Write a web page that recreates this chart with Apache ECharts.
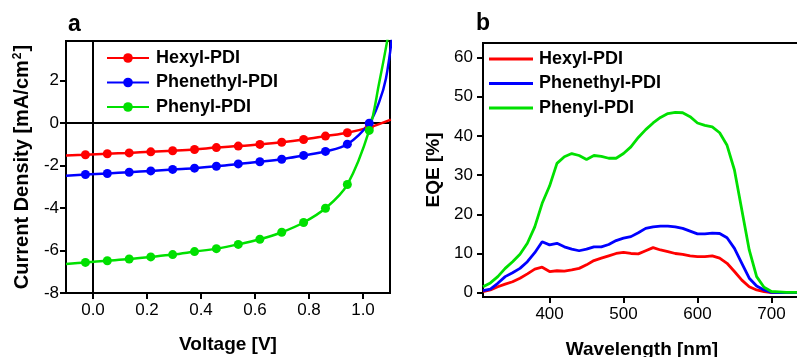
<!DOCTYPE html>
<html>
<head>
<meta charset="utf-8">
<script src="https://cdn.jsdelivr.net/npm/echarts@6/dist/echarts.min.js"></script>
<style>
html,body{margin:0;padding:0;background:#fff;}
#chart{width:797px;height:357px;}
</style>
</head>
<body>
<div id="chart"></div>
<script>
// ---- Panel a: J-V curves ----
const markerV = [-0.028, 0.053, 0.134, 0.214, 0.295, 0.376, 0.457, 0.538, 0.618, 0.699, 0.78, 0.861, 0.942, 1.023, 1.103];
const hexylV = [-0.1, -0.028, 0.053, 0.134, 0.214, 0.295, 0.376, 0.457, 0.538, 0.618, 0.699, 0.78, 0.861, 0.942, 1.023, 1.103];
const hexylJ = [-1.52, -1.49, -1.44, -1.40, -1.35, -1.30, -1.24, -1.15, -1.08, -1.00, -0.90, -0.77, -0.61, -0.45, -0.2, 0.17];
const phenethylV = [-0.1, -0.028, 0.053, 0.134, 0.214, 0.295, 0.376, 0.457, 0.538, 0.618, 0.699, 0.78, 0.861, 0.942, 1.023, 1.06, 1.085, 1.11];
const phenethylJ = [-2.48, -2.42, -2.37, -2.31, -2.25, -2.18, -2.12, -2.03, -1.92, -1.82, -1.70, -1.52, -1.33, -0.99, 0.0, 1.0, 2.1, 4.3];
const phenylV = [-0.1, -0.028, 0.053, 0.134, 0.214, 0.295, 0.376, 0.457, 0.538, 0.618, 0.699, 0.78, 0.861, 0.942, 1.023, 1.06, 1.09, 1.1];
const phenylJ = [-6.63, -6.56, -6.48, -6.40, -6.30, -6.19, -6.05, -5.91, -5.71, -5.47, -5.14, -4.68, -4.01, -2.89, -0.34, 1.9, 3.9, 4.7];
const voltageTicks = [0.0, 0.2, 0.4, 0.6, 0.8, 1.0];
const currentTicks = [-8, -6, -4, -2, 0, 2];

// ---- Panel b: EQE spectra ----
const wavelength = [310,320,330,340,350,360,370,380,390,400,410,420,430,440,450,460,470,480,490,500,510,520,530,540,550,560,570,580,590,600,610,620,630,640,650,660,670,680,690,700,710,720,730,740];
const hexylEQE = [0.3,0.7,1.5,2.2,2.8,3.7,4.8,6.0,6.5,5.4,5.6,5.5,5.8,6.2,7.1,8.2,8.8,9.4,10.0,10.3,10.0,9.9,10.7,11.5,10.9,10.5,10.0,9.8,9.4,9.2,9.2,9.4,8.8,7.5,5.4,3.2,1.5,0.7,0.3,0.05,0,0,0,0];
const phenethylEQE = [0.5,0.9,2.4,4.1,5.1,6.2,7.9,10.2,13.0,12.2,12.6,11.7,11.1,10.7,11.1,11.7,11.7,12.3,13.3,13.9,14.3,15.3,16.4,16.8,17.0,17.0,16.8,16.4,15.7,15.0,15.0,15.2,15.1,14.0,11.3,7.5,3.7,1.7,0.7,0.1,0,0,0,0];
const phenylEQE = [1.5,2.5,4.1,6.2,7.9,9.8,12.6,16.8,22.8,27.2,33.0,34.7,35.5,35.0,34.0,35.0,34.8,34.3,34.3,35.5,37.2,39.6,41.6,43.3,44.7,45.7,46.0,45.9,44.9,43.3,42.7,42.3,40.8,37.6,31.3,21.1,10.9,4.1,1.4,0.3,0.2,0.1,0.1,0.1];
const wavelengthTicks = [400, 500, 600, 700];
const eqeTicks = [0, 10, 20, 30, 40, 50, 60];

const names = ['Hexyl-PDI', 'Phenethyl-PDI', 'Phenyl-PDI'];
const colors = ['#ff0000', '#0000ff', '#00e000'];
const FONT = 'Liberation Sans, Arial, Helvetica, sans-serif';

function jvData(vs, js) {
  return vs.map((v, i) => {
    const shown = markerV.some(m => Math.abs(m - v) < 1e-9);
    return shown ? [v, js[i]] : { value: [v, js[i]], symbol: 'none' };
  });
}

function axisCommon(ticks, fmt, margin) {
  return {
    axisLine: { show: true, onZero: false, lineStyle: { color: '#000', width: 2 } },
    axisTick: { show: true, inside: false, length: 6, lineStyle: { color: '#000', width: 2 }, customValues: ticks },
    axisLabel: { show: true, customValues: ticks, formatter: fmt, color: '#000', fontSize: 17, fontFamily: FONT, margin: margin },
    splitLine: { show: false },
    nameLocation: 'middle',
    nameTextStyle: { color: '#000', fontSize: 19, fontWeight: 'bold', fontFamily: FONT }
  };
}

const chart = echarts.init(document.getElementById('chart'), null, { renderer: 'canvas' });

const option = {
  backgroundColor: '#fff',
  animation: false,
  title: [
    { text: 'a', left: 68, top: 13, padding: 0, textStyle: { fontSize: 23, fontWeight: 'bold', fontFamily: FONT, color: '#000' } },
    { text: 'b', left: 476, top: 12, padding: 0, textStyle: { fontSize: 23, fontWeight: 'bold', fontFamily: FONT, color: '#000' } }
  ],
  grid: [
    { left: 66, top: 41, width: 324, height: 252, containLabel: false, outerBoundsMode: 'none', show: true, borderColor: '#000', borderWidth: 2, backgroundColor: 'transparent' },
    { left: 483, top: 43, width: 318, height: 254, containLabel: false, outerBoundsMode: 'none', show: true, borderColor: '#000', borderWidth: 2, backgroundColor: 'transparent' }
  ],
  legend: [
    {
      left: 106, top: 49, padding: 0, orient: 'vertical', itemWidth: 42, itemHeight: 12, itemGap: 6.5,
      data: names.map(n => ({ name: n + ' ' })),
      textStyle: { color: '#000', fontSize: 18, fontWeight: 'bold', fontFamily: FONT, lineHeight: 18, padding: [0, 0, 0, 2] },
      selectedMode: false
    },
    {
      left: 489, top: 50, padding: 0, orient: 'vertical', itemWidth: 44, itemHeight: 3, itemGap: 6.5,
      data: names.map(n => ({ name: n, icon: 'rect' })),
      textStyle: { color: '#000', fontSize: 18, fontWeight: 'bold', fontFamily: FONT, lineHeight: 18, padding: [0, 0, 0, 1] },
      selectedMode: false
    }
  ],
  xAxis: [
    Object.assign(axisCommon(voltageTicks, v => v.toFixed(1), 9), {
      type: 'value', gridIndex: 0, min: -0.1, max: 1.1, position: 'bottom',
      name: 'Voltage [V]', nameGap: 42
    }),
    Object.assign(axisCommon(wavelengthTicks, v => String(v), 9), {
      type: 'value', gridIndex: 1, min: 310, max: 740, position: 'bottom',
      name: 'Wavelength [nm]', nameGap: 43
    })
  ],
  yAxis: [
    Object.assign(axisCommon(currentTicks, v => String(v), 7), {
      type: 'value', gridIndex: 0, min: -8, max: 3.87, position: 'left',
      name: 'Current Density [mA/cm{sup|2}]', nameGap: 33,
      nameTextStyle: {
        color: '#000', fontSize: 20, fontWeight: 'bold', fontFamily: FONT,
        rich: { sup: { fontSize: 12, fontWeight: 'bold', fontFamily: FONT, color: '#000', verticalAlign: 'top', padding: [0, 1, 9, 1] } }
      }
    }),
    Object.assign(axisCommon(eqeTicks, v => String(v), 10), {
      type: 'value', gridIndex: 1, min: -1.1, max: 63.7, position: 'left',
      name: 'EQE [%]', nameGap: 40
    })
  ],
  series: [
    {
      name: names[0] + ' ', type: 'line', xAxisIndex: 0, yAxisIndex: 0,
      data: jvData(hexylV, hexylJ), smooth: 0.35,
      symbol: 'circle', symbolSize: 9, showSymbol: true, color: colors[0],
      lineStyle: { width: 2.5, color: colors[0] }, itemStyle: { color: colors[0] }, z: 3,
      markLine: {
        silent: true, symbol: 'none', label: { show: false }, animation: false,
        lineStyle: { color: '#000', type: 'solid', width: 2 },
        data: [{ yAxis: 0 }, { xAxis: 0 }], z: 2
      }
    },
    {
      name: names[1] + ' ', type: 'line', xAxisIndex: 0, yAxisIndex: 0,
      data: jvData(phenethylV, phenethylJ), smooth: 0.35,
      symbol: 'circle', symbolSize: 9, showSymbol: true, color: colors[1],
      lineStyle: { width: 2.5, color: colors[1] }, itemStyle: { color: colors[1] }, z: 3
    },
    {
      name: names[2] + ' ', type: 'line', xAxisIndex: 0, yAxisIndex: 0,
      data: jvData(phenylV, phenylJ), smooth: 0.35,
      symbol: 'circle', symbolSize: 9, showSymbol: true, color: colors[2],
      lineStyle: { width: 2.5, color: colors[2] }, itemStyle: { color: colors[2] }, z: 3
    },
    {
      name: names[0], type: 'line', xAxisIndex: 1, yAxisIndex: 1,
      data: wavelength.map((w, i) => [w, hexylEQE[i]]), symbol: 'none', color: colors[0],
      lineStyle: { width: 2.8, color: colors[0] }
    },
    {
      name: names[1], type: 'line', xAxisIndex: 1, yAxisIndex: 1,
      data: wavelength.map((w, i) => [w, phenethylEQE[i]]), symbol: 'none', color: colors[1],
      lineStyle: { width: 2.8, color: colors[1] }
    },
    {
      name: names[2], type: 'line', xAxisIndex: 1, yAxisIndex: 1,
      data: wavelength.map((w, i) => [w, phenylEQE[i]]), symbol: 'none', color: colors[2],
      lineStyle: { width: 2.8, color: colors[2] }
    }
  ]
};
chart.setOption(option);
</script>
</body>
</html>
